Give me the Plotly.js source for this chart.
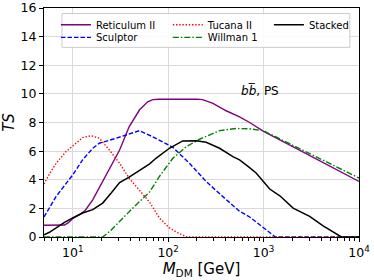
<!DOCTYPE html>
<html><head><meta charset="utf-8">
<script src="https://cdn.plot.ly/plotly-3.0.1.min.js"></script>
<style>html,body{margin:0;padding:0;background:#fff;}#plot{width:374px;height:280px;}</style>
</head><body><div id="plot"></div>
<script>
// Reticulum II
const retX = [5, 6, 7, 8.2, 9, 10, 12, 13.5, 16.2, 19, 22.4, 26, 31, 39, 50, 61, 69, 80, 100, 141, 200, 229, 295, 405, 560, 714, 1000, 2000, 5000, 10000];
const retY = [0.82, 0.82, 0.82, 0.84, 1.0, 1.3, 1.6, 1.85, 2.6, 3.48, 4.34, 5.2, 6.08, 7.7, 8.87, 9.45, 9.6, 9.62, 9.63, 9.65, 9.63, 9.6, 9.33, 8.82, 8.4, 8.0, 7.38, 6.33, 4.93, 3.88];
// Sculptor
const sclX = [5, 6.7, 10, 12.7, 16.2, 19, 28.5, 39, 50, 69, 112, 167, 250, 373, 560, 714, 1000, 1330, 2000, 10000];
const sclY = [1.4, 2.83, 4.34, 5.39, 6.2, 6.55, 6.9, 7.17, 7.43, 7.0, 6.27, 5.15, 3.88, 2.83, 1.8, 1.4, 0.65, 0, 0, 0];
// Tucana II
const tucX = [5, 5.7, 6.7, 8.5, 10, 12.7, 15.6, 19, 24.2, 31, 39, 50, 64, 81, 103, 131, 155, 200, 1000, 10000];
const tucY = [3.7, 4.4, 5.15, 5.97, 6.36, 6.94, 7.08, 6.9, 6.08, 5.15, 4.11, 3.3, 2.43, 1.33, 0.63, 0.24, 0.02, 0, 0, 0];
// Willman 1
const wilX = [5, 10, 20.6, 25, 31, 42.6, 64, 81, 112, 155, 213, 346, 516, 712, 1000, 2000, 5000, 10000];
const wilY = [0, 0, 0, 0.45, 1.09, 2.02, 3.15, 4.23, 5.5, 6.31, 6.83, 7.43, 7.58, 7.56, 7.42, 6.42, 5.1, 4.12];
// Stacked
const stkX = [5, 5.7, 6.7, 8.2, 10, 12.7, 16.2, 20.6, 25.3, 31, 39, 50, 64, 74.5, 103, 142, 197, 250, 346, 477, 560, 714, 840, 1160, 1480, 2040, 3040, 4170, 5760, 6540, 10000];
const stkY = [0.15, 0.33, 0.63, 1.02, 1.33, 1.68, 1.91, 2.37, 3.07, 3.81, 4.18, 4.65, 5.11, 5.5, 6.2, 6.71, 6.73, 6.62, 6.2, 5.62, 5.39, 4.85, 4.46, 3.35, 2.88, 2.02, 1.44, 0.79, 0.24, 0, 0];

const xTickVals = [10, 100, 1000, 10000];
const xTickText = ['10<sup>1</sup>', '10<sup>2</sup>', '10<sup>3</sup>', '10<sup>4</sup>'];
const yTickVals = [0, 2, 4, 6, 8, 10, 12, 14, 16];

const minorVals = [];
for (let d = 0; d <= 3; d++) for (let k = 2; k <= 9; k++) { const v = k * Math.pow(10, d); if (v >= 5) minorVals.push(v); }

const lw = 1.4;
const traces = [
  {x: retX, y: retY, name: 'Reticulum II', mode: 'lines', line: {color: '#800080', width: lw}, legend: 'legend'},
  {x: sclX, y: sclY, name: 'Sculptor', mode: 'lines', line: {color: '#0000ff', width: lw, dash: '4.5px,2px'}, legend: 'legend2'},
  {x: tucX, y: tucY, name: 'Tucana II', mode: 'lines', line: {color: '#ff0000', width: lw, dash: '1.4px,1.8px'}, legend: 'legend3'},
  {x: wilX, y: wilY, name: 'Willman 1', mode: 'lines', line: {color: '#008000', width: lw, dash: '6px,2px,1.5px,2px'}, legend: 'legend4'},
  {x: stkX, y: stkY, name: 'Stacked', mode: 'lines', line: {color: '#000000', width: 1.5}, legend: 'legend5'}
];

const font = 'DejaVu Sans, sans-serif';
const legBase = {bgcolor: 'rgba(0,0,0,0)', borderwidth: 0, font: {family: font, size: 10, color: '#000'},
  xanchor: 'left', yanchor: 'top', tracegroupgap: 0, itemwidth: 30};
const row1 = 0.99, row2 = 0.935;
const col1 = 0.038, col2 = 0.393, col3 = 0.714;

const layout = {
  width: 374, height: 280,
  margin: {l: 44, r: 15, t: 7.5, b: 42.5},
  paper_bgcolor: '#fff', plot_bgcolor: '#fff',
  font: {family: font, color: '#000'},
  showlegend: true,
  xaxis: {
    type: 'log', range: [Math.log10(5), 4],
    tickvals: xTickVals, ticktext: xTickText,
    ticks: 'outside', ticklen: 4, tickwidth: 1, tickcolor: '#000',
    tickfont: {family: font, size: 12.5, color: '#000'},
    showgrid: true, gridcolor: '#dadada', gridwidth: 1,
    showline: true, linecolor: '#000', linewidth: 1, mirror: true,
    zeroline: false,
    minor: {tickvals: minorVals, ticks: 'outside', ticklen: 2.5, tickcolor: '#000', showgrid: false},
    title: {text: '<i>M</i><sub>DM</sub> [GeV]', font: {family: font, size: 15, color: '#000'}, standoff: 0}
  },
  yaxis: {
    range: [0, 16], tickvals: yTickVals,
    ticks: 'outside', ticklen: 4, tickwidth: 1, tickcolor: '#000',
    tickfont: {family: font, size: 12.5, color: '#000'},
    showgrid: true, gridcolor: '#dadada', gridwidth: 1,
    showline: true, linecolor: '#000', linewidth: 1, mirror: true,
    zeroline: false,
    title: {text: '<i>TS</i>', font: {family: font, size: 15, color: '#000'}, standoff: 4}
  },
  legend: Object.assign({}, legBase, {x: col1, y: row1}),
  legend2: Object.assign({}, legBase, {x: col1, y: row2}),
  legend3: Object.assign({}, legBase, {x: col2, y: row1}),
  legend4: Object.assign({}, legBase, {x: col2, y: row2}),
  legend5: Object.assign({}, legBase, {x: col3, y: row1}),
  shapes: [{type: 'rect', xref: 'paper', yref: 'paper', x0: 0.057, x1: 0.971, y0: 0.828, y1: 0.976,
    fillcolor: 'rgba(255,255,255,0.85)', line: {color: '#cccccc', width: 1}, layer: 'above'}],
  annotations: [{xref: 'x', yref: 'y', x: 2.959, y: 10.26, showarrow: false,
    text: '<i>b</i><i>b\u0305</i>, PS', font: {family: font, size: 12, color: '#000'}}]
};

Plotly.newPlot('plot', traces, layout, {displayModeBar: false, staticPlot: true});
</script>
</body></html>
